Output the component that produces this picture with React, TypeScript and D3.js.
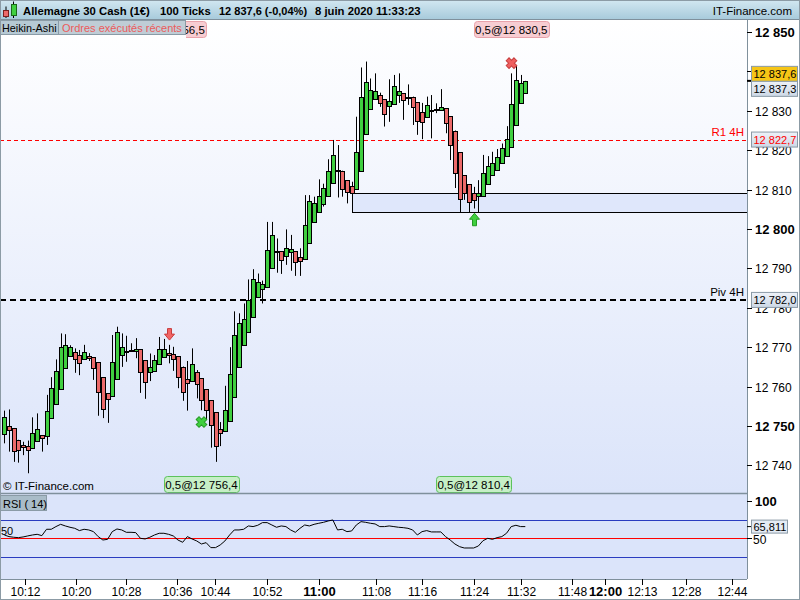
import React from 'react';
import * as d3 from 'd3';

// ---------- DATA ----------
const haOpen = [12747.9,12750.0,12749.5,12746.5,12745.2,12744.9,12744.4,12746.3,12747.7,12747.4,12752.0,12755.5,12759.3,12764.6,12767.7,12768.7,12767.9,12766.9,12767.8,12767.4,12766.2,12762.4,12758.3,12757.5,12761.9,12767.9,12768.9,12769.0,12769.1,12769.5,12766.7,12763.8,12763.9,12765.7,12767.6,12768.5,12768.2,12767.7,12765.1,12761.9,12761.4,12763.6,12762.1,12759.3,12756.5,12753.5,12749.2,12748.7,12751.2,12757.3,12765.1,12770.6,12773.8,12777.7,12782.7,12784.7,12785.2,12790.0,12794.2,12794.4,12793.1,12794.1,12794.4,12792.9,12792.3,12796.5,12801.9,12804.2,12806.3,12808.3,12811.6,12815.1,12814.8,12812.4,12811.0,12810.1,12814.7,12824.0,12830.5,12832.9,12833.9,12832.9,12831.1,12831.6,12833.9,12834.4,12833.6,12833.6,12832.2,12829.6,12828.4,12830.1,12830.3,12830.1,12830.6,12828.6,12825.0,12819.5,12813.6,12811.3,12809.1,12808.3,12808.5,12811.3,12813.6,12815.1,12816.7,12818.5,12820.7,12826.3,12832.1,12834.4];
const haHigh = [12753.9,12754.2,12749.5,12746.5,12746.0,12746.3,12752.2,12753.2,12747.7,12757.9,12762.4,12766.9,12773.5,12773.3,12770.5,12769.7,12769.3,12770.6,12768.5,12767.4,12766.2,12762.4,12758.3,12773.1,12775.2,12773.5,12772.9,12771.0,12772.3,12769.5,12766.7,12768.4,12768.0,12772.6,12772.1,12770.6,12770.1,12767.7,12765.1,12766.5,12769.7,12764.2,12762.1,12759.3,12756.5,12753.5,12751.0,12760.2,12770.0,12779.1,12778.6,12781.1,12787.2,12789.8,12788.7,12786.9,12801.8,12801.8,12797.6,12794.4,12799.9,12798.5,12794.4,12795.1,12808.6,12808.6,12808.2,12812.6,12811.5,12817.7,12822.6,12821.3,12814.8,12812.4,12812.0,12828.5,12841.0,12842.5,12838.2,12839.5,12834.6,12832.9,12838.0,12839.1,12839.5,12834.4,12836.7,12833.6,12832.2,12832.0,12833.6,12834.0,12831.9,12835.5,12830.6,12828.6,12825.0,12819.5,12813.6,12811.3,12810.7,12812.4,12818.8,12818.5,12819.6,12820.3,12821.7,12826.1,12839.5,12841.4,12839.1,12837.6];
const haLow = [12745.6,12743.5,12740.9,12740.7,12742.6,12738.0,12744.4,12746.3,12743.5,12745.2,12752.0,12755.5,12759.3,12764.6,12767.7,12763.5,12762.9,12766.9,12766.5,12761.7,12752.6,12752.0,12750.8,12757.5,12761.9,12765.0,12766.3,12768.8,12767.2,12758.4,12756.9,12761.4,12763.9,12765.7,12767.6,12765.9,12764.0,12759.6,12756.4,12753.9,12761.4,12757.0,12754.0,12751.5,12744.5,12740.9,12744.9,12748.7,12751.2,12757.3,12765.1,12770.6,12773.8,12777.7,12782.7,12781.1,12785.2,12790.0,12788.9,12788.6,12790.9,12789.4,12788.1,12788.1,12792.3,12796.5,12801.9,12804.2,12805.7,12808.3,12811.6,12808.0,12808.2,12806.5,12808.6,12810.1,12814.7,12824.0,12830.5,12832.9,12831.0,12826.0,12827.2,12831.6,12832.0,12827.7,12831.5,12826.4,12823.9,12822.8,12828.4,12823.0,12829.4,12830.1,12824.3,12817.5,12810.4,12804.2,12807.4,12804.2,12805.2,12804.2,12808.5,12811.3,12813.6,12815.1,12816.7,12818.5,12820.7,12826.3,12832.1,12834.4];
const haClose = [12752.2,12748.9,12743.6,12743.9,12744.6,12744.0,12748.2,12749.2,12746.9,12753.8,12759.6,12763.9,12770.0,12770.5,12770.0,12766.9,12765.9,12768.7,12767.2,12764.6,12758.6,12754.2,12756.8,12766.2,12773.8,12770.0,12769.1,12769.2,12769.5,12763.8,12761.2,12765.1,12766.7,12769.5,12769.5,12767.9,12766.9,12762.5,12758.7,12761.0,12765.7,12760.6,12756.5,12754.0,12750.2,12745.0,12748.2,12754.0,12763.1,12773.0,12776.1,12777.2,12782.0,12787.2,12786.5,12786.0,12794.7,12798.5,12794.3,12792.1,12795.1,12794.8,12791.5,12791.8,12800.9,12807.1,12806.5,12808.3,12810.3,12814.7,12818.8,12814.9,12810.1,12809.3,12809.1,12819.5,12833.6,12837.2,12835.2,12834.9,12831.9,12829.1,12832.4,12836.2,12834.9,12832.7,12833.5,12830.9,12827.3,12827.1,12831.4,12830.2,12830.4,12830.9,12826.8,12821.2,12814.1,12807.5,12809.1,12806.8,12807.3,12809.1,12814.1,12815.9,12816.7,12818.2,12820.5,12822.8,12831.7,12837.7,12837.0,12837.6];
const rsi14 = [54.5,52.3,51.4,50.9,51.8,53.2,54.5,55.4,53.6,62.2,62.2,65.8,68.9,66.7,64.9,63.5,60.4,62.2,61.3,59.0,52.3,47.7,48.6,59.0,62.6,61.3,58.1,58.1,57.7,50.0,49.1,51.4,54.5,56.8,56.8,55.4,53.2,47.7,44.6,52.3,49.1,46.4,42.3,44.1,37.4,37.4,41.0,46.4,54.5,61.3,61.3,62.2,66.7,65.8,67.6,71.2,71.2,68.0,64.9,66.7,65.8,61.3,58.1,63.5,68.0,66.7,68.9,70.3,71.6,73.4,74.8,61.3,62.2,59.0,59.9,68.0,72.5,71.6,70.3,69.4,65.8,65.8,66.7,65.8,64.9,64.4,63.5,61.3,54.5,59.0,60.4,58.6,58.6,58.6,52.3,47.7,42.3,38.7,36.9,36.9,36.9,39.6,46.8,50.0,48.6,50.9,52.3,56.8,65.8,67.6,65.8,65.8];

const priceTicks = [12740,12750,12760,12770,12780,12790,12800,12810,12820,12830,12840,12850];
const hiddenTickLabels = [12840];
const timeLabels = ['10:12','10:20','10:28','10:36','10:44','10:52','11:00','11:08','11:16','11:24','11:32','11:48','12:00','12:13','12:28','12:44'];
const timeTickIdx = [4.41,15.27,25.93,36.73,44.89,55.9,67.1,79.1,88.9,100.1,110.0,120.9,127.9,135.9,145.2,155.1];
const boldTimes = ['11:00','12:00'];

const r1Level = 12822.7;
const pivLevel = 12782.0;
const zoneTop = 12809.1;
const zoneBottom = 12804.2;
const zoneStartIdx = 74;
const lastPrice = 12837.6;
const haLastPrice = 12837.3;
const rsiLast = 65.811;
const rsiBands = [75, 25];

const tradeIdx = [35, 42, 100, 108];
const tradeKind = ['sellArrow', 'buyCross', 'buyArrow', 'sellCross'];
const tradeMarkPrice = [12771.8, 12751.0, 12804.0, 12842.1];
const tradeText = ['0,5@12 756,5', '0,5@12 756,4', '0,5@12 810,4', '0,5@12 830,5'];
const tradeSide = ['top', 'bottom', 'bottom', 'top'];

// ---------- HELPERS ----------
const FONT = 'Liberation Sans, Arial, sans-serif';
const fmtPrice = (v: number, dec = 0) => {
  const s = v.toFixed(dec);
  const [ip, dp] = s.split('.');
  const th = ip.replace(/\B(?=(\d{3})+(?!\d))/g, ' ');
  return dp ? `${th},${dp}` : th;
};

const W = 800, H = 600;
const plotR = 747, mainT = 20, mainB = 493, rsiT = 494, rsiB = 579;

const x = d3.scaleLinear().domain([0, 111]).range([4.3, 525.3]);
const y = d3.scaleLinear().domain([12740, 12850]).range([465.4, 32]);
const yr = d3.scaleLinear().domain([0, 100]).range([575.3, 501.3]);

const crossPath = (() => {
  const a = 5.5, b = 2;
  return `M${-b},${-a}L${b},${-a}L${b},${-b}L${a},${-b}L${a},${b}L${b},${b}L${b},${a}L${-b},${a}L${-b},${b}L${-a},${b}L${-a},${-b}L${-b},${-b}Z`;
})();

function Marker({ kind, cx, cy }: { kind: string; cx: number; cy: number }) {
  if (kind === 'sellArrow') {
    const d = `M${cx - 2},${cy - 11.5}L${cx + 2},${cy - 11.5}L${cx + 2},${cy - 6}L${cx + 5},${cy - 6}L${cx},${cy}L${cx - 5},${cy - 6}L${cx - 2},${cy - 6}Z`;
    return <path d={d} fill="#f26565" stroke="#c83c3c" strokeWidth={1} />;
  }
  if (kind === 'buyArrow') {
    const d = `M${cx - 2},${cy + 12.5}L${cx + 2},${cy + 12.5}L${cx + 2},${cy + 6}L${cx + 5},${cy + 6}L${cx},${cy}L${cx - 5},${cy + 6}L${cx - 2},${cy + 6}Z`;
    return <path d={d} fill="#3fcf3f" stroke="#239a23" strokeWidth={1} />;
  }
  const green = kind === 'buyCross';
  return (
    <path d={crossPath} transform={`translate(${cx},${cy}) rotate(45)`}
      fill={green ? '#3fcf3f' : '#f06060'} stroke={green ? '#239a23' : '#c84040'} strokeWidth={1} />
  );
}

function ValueBox({ yc, text, fill, color, top }: { yc: number; text: string; fill: string; color: string; top?: number }) {
  const h = 15;
  const y0 = top !== undefined ? top : yc - h / 2;
  return (
    <g>
      <rect x={751.5} y={y0} width={46} height={h} fill={fill} stroke="#8a9aa6" strokeWidth={1} />
      <text x={753.5} y={y0 + h / 2} dy="0.36em" fontSize={11} fill={color} fontFamily={FONT}>{text}</text>
    </g>
  );
}

export default function App() {
  const rsiLine = d3.line<number>().x((_, i) => x(i)).y((v) => yr(v))(rsi14) || '';
  const lastY = y(lastPrice);

  return (
    <svg width={W} height={H} style={{ position: 'absolute', left: 0, top: 0, background: '#fff' }}>
      <defs>
        <linearGradient id="hdr" x1="0" y1="0" x2="0" y2="1">
          <stop offset="0" stopColor="#d2e7f1" />
          <stop offset="1" stopColor="#a7cadb" />
        </linearGradient>
        <linearGradient id="mainbg" x1="0" y1="0" x2="0" y2="1">
          <stop offset="0" stopColor="#ffffff" />
          <stop offset="1" stopColor="#dbe4fa" />
        </linearGradient>
        <linearGradient id="boxbg" x1="0" y1="0" x2="0" y2="1">
          <stop offset="0" stopColor="#eef2f8" />
          <stop offset="1" stopColor="#cdd8e6" />
        </linearGradient>
        <clipPath id="mainclip"><rect x={0} y={mainT} width={plotR} height={mainB - mainT} /></clipPath>
        <clipPath id="rsiclip"><rect x={0} y={rsiT} width={plotR} height={rsiB - rsiT} /></clipPath>
        <clipPath id="tlclip"><rect x={186} y={mainT} width={plotR - 186} height={40} /></clipPath>
      </defs>

      {/* backgrounds */}
      <rect x={0} y={mainT} width={plotR} height={mainB - mainT} fill="url(#mainbg)" />
      <rect x={0} y={rsiT} width={plotR} height={rsiB - rsiT} fill="#dbe4fa" />

      {/* main panel */}
      <g clipPath="url(#mainclip)">
        <rect x={Math.round(x(zoneStartIdx)) + 0.5} y={Math.round(y(zoneTop)) + 0.5} width={plotR - Math.round(x(zoneStartIdx))}
          height={Math.round(y(zoneBottom)) - Math.round(y(zoneTop))} fill="#dfe7fb" stroke="#000" strokeWidth={1} />
        <line x1={0} x2={plotR} y1={Math.round(y(r1Level)) + 0.5} y2={Math.round(y(r1Level)) + 0.5} stroke="#ff0000" strokeWidth={1} strokeDasharray="4,3" />
        <text x={744} y={y(r1Level) - 4} textAnchor="end" fontSize={11.5} fill="#ff0000" fontFamily={FONT}>R1 4H</text>
        <line x1={0} x2={plotR} y1={y(pivLevel)} y2={y(pivLevel)} stroke="#000" strokeWidth={2} strokeDasharray="6,4" />
        <text x={744} y={y(pivLevel) - 4} textAnchor="end" fontSize={11.5} fill="#000" fontFamily={FONT}>Piv 4H</text>

        {haOpen.map((o, i) => {
          const c = haClose[i];
          const up = c >= o;
          const r = Math.round(x(i));
          const top = y(Math.max(o, c));
          const bot = y(Math.min(o, c));
          return (
            <g key={i}>
              <line x1={r + 0.5} x2={r + 0.5} y1={y(haHigh[i])} y2={y(haLow[i])} stroke="#000" strokeWidth={1} />
              <rect x={r - 1.5} y={Math.round(top) + 0.5} width={4} height={Math.max(Math.round(bot) - Math.round(top), 1)}
                fill={up ? '#40cf40' : '#ec6a6a'} stroke="#000" strokeWidth={1} />
            </g>
          );
        })}

        {tradeIdx.map((ix, k) => (
          <Marker key={k} kind={tradeKind[k]} cx={Math.round(x(ix)) + 0.5} cy={y(tradeMarkPrice[k])} />
        ))}

        {tradeIdx.map((ix, k) => {
          const cx = x(ix);
          const isTop = tradeSide[k] === 'top';
          const by = isTop ? 21.5 : 476.5;
          const green = !isTop;
          const clipped = isTop && cx - 37.5 < 186;
          return (
            <g key={'l' + k} clipPath={clipped ? 'url(#tlclip)' : undefined}>
              <rect x={Math.round(cx - 37.5) + 0.5} y={by} width={75} height={16} rx={3}
                fill={green ? '#c6efc6' : '#f7cdd2'} stroke={green ? '#5cc25c' : '#e8a2aa'} strokeWidth={1} />
              <text x={cx} y={by + 8} dy="0.36em" textAnchor="middle" fontSize={11.5} fill="#000" fontFamily={FONT}>{tradeText[k]}</text>
            </g>
          );
        })}
        <text x={3} y={490} fontSize={11.5} fill="#000" fontFamily={FONT}>© IT-Finance.com</text>
      </g>

      {/* overlay boxes top-left */}
      <rect x={0.5} y={20.5} width={58} height={14} fill="#b6c9d4" stroke="#8a9ba6" strokeWidth={1} />
      <text x={2} y={31.5} fontSize={10.8} fill="#000" fontFamily={FONT}>Heikin-Ashi</text>
      <rect x={58.5} y={20.5} width={127} height={14} fill="#bfcdd6" stroke="#8a9ba6" strokeWidth={1} />
      <text x={62} y={31.5} fontSize={11} fill="#ec5b5b" fontFamily={FONT}>Ordres exécutés récents</text>

      {/* panel separators */}
      <line x1={0} x2={plotR} y1={mainB + 0.5} y2={mainB + 0.5} stroke="#7f909c" strokeWidth={1.5} />
      <line x1={0} x2={plotR} y1={rsiB + 0.5} y2={rsiB + 0.5} stroke="#7f909c" strokeWidth={1} />

      {/* RSI panel */}
      <g clipPath="url(#rsiclip)">
        {rsiBands.map((b) => (
          <line key={b} x1={0} x2={plotR} y1={Math.round(yr(b)) + 0.5} y2={Math.round(yr(b)) + 0.5} stroke="#2a3cc0" strokeWidth={1} />
        ))}
        <line x1={0} x2={plotR} y1={Math.round(yr(50)) + 0.5} y2={Math.round(yr(50)) + 0.5} stroke="#ff0000" strokeWidth={1} />
        <path d={rsiLine} fill="none" stroke="#000" strokeWidth={1} />
        <text x={1} y={yr(50) - 3} fontSize={11} fill="#000" fontFamily={FONT}>50</text>
      </g>
      <rect x={0.5} y={495.5} width={46} height={15} fill="#a9bcc8" stroke="#8a9ba6" strokeWidth={1} />
      <text x={3} y={507.5} fontSize={11} fill="#000" fontFamily={FONT}>RSI ( 14)</text>

      {/* right axis */}
      <line x1={plotR + 0.5} x2={plotR + 0.5} y1={mainT} y2={rsiB} stroke="#7f909c" strokeWidth={1} />
      {priceTicks.map((t) => {
        const bold = t % 50 === 0;
        const ty = Math.round(y(t)) + 0.5;
        return (
          <g key={t}>
            <line x1={plotR} x2={plotR + 5} y1={ty} y2={ty} stroke="#000" strokeWidth={1} />
            {!hiddenTickLabels.includes(t) && (
              <text x={755} y={ty} dy="0.36em" fontSize={bold ? 13 : 12} fontWeight={bold ? 'bold' : 'normal'} fill="#000" fontFamily={FONT}>{fmtPrice(t)}</text>
            )}
          </g>
        );
      })}
      <line x1={plotR} x2={plotR + 4} y1={lastY} y2={lastY} stroke="#000" strokeWidth={2} />
      <ValueBox yc={lastY} top={lastY - 14.5} text={fmtPrice(lastPrice, 1)} fill="#f6c516" color="#000" />
      <ValueBox yc={lastY} top={lastY + 0.5} text={fmtPrice(haLastPrice, 1)} fill="url(#boxbg)" color="#000" />
      <ValueBox yc={y(r1Level)} text={fmtPrice(r1Level, 1)} fill="url(#boxbg)" color="#ff0000" />
      <ValueBox yc={y(pivLevel)} text={fmtPrice(pivLevel, 1)} fill="url(#boxbg)" color="#000" />

      {/* RSI axis */}
      <line x1={plotR} x2={plotR + 5} y1={Math.round(yr(100)) + 0.5} y2={Math.round(yr(100)) + 0.5} stroke="#000" />
      <text x={755} y={yr(100)} dy="0.36em" fontSize={13} fontWeight="bold" fill="#000" fontFamily={FONT}>100</text>
      <line x1={plotR} x2={plotR + 5} y1={Math.round(yr(50)) + 0.5} y2={Math.round(yr(50)) + 0.5} stroke="#000" />
      <text x={753} y={yr(50) + 1} dy="0.36em" fontSize={12} fill="#000" fontFamily={FONT}>50</text>
      <line x1={plotR} x2={plotR + 5} y1={yr(rsiLast)} y2={yr(rsiLast)} stroke="#000" />
      <rect x={751.5} y={yr(rsiLast) - 6.5} width={36} height={13} fill="#e4ebf4" stroke="#8a9aa6" />
      <text x={753.5} y={yr(rsiLast)} dy="0.36em" fontSize={11} fill="#000" fontFamily={FONT}>{rsiLast.toFixed(3).replace('.', ',')}</text>

      {/* time axis */}
      {timeLabels.map((lab, k) => {
        const tx = Math.round(x(timeTickIdx[k])) + 0.5;
        const bold = boldTimes.includes(lab);
        return (
          <g key={lab}>
            <line x1={tx} x2={tx} y1={rsiB} y2={rsiB + 6} stroke="#000" strokeWidth={1} />
            <text x={tx} y={596} textAnchor="middle" fontSize={bold ? 13 : 12} fontWeight={bold ? 'bold' : 'normal'} fill="#000" fontFamily={FONT}>{lab}</text>
          </g>
        );
      })}

      {/* header */}
      <rect x={0} y={0} width={W} height={19.5} fill="url(#hdr)" />
      <line x1={0} x2={W} y1={19.5} y2={19.5} stroke="#7f909c" />
      <line x1={6} x2={6} y1={6.5} y2={18} stroke="#000" />
      <rect x={3.5} y={10.5} width={5} height={6} fill="#ec6a6a" stroke="#7a2020" />
      <line x1={13.5} x2={13.5} y1={1.5} y2={18} stroke="#000" />
      <rect x={11.5} y={4.5} width={5} height={11} fill="#40cf40" stroke="#1a6a1a" />
      <text x={23} y={14.5} fontSize={11.3} fontWeight="bold" fill="#000" fontFamily={FONT}>Allemagne 30 Cash (1€)</text>
      <text x={160} y={14.5} fontSize={11.3} fontWeight="bold" fill="#000" fontFamily={FONT}>100 Ticks</text>
      <text x={219} y={14.5} fontSize={11} fontWeight="bold" fill="#000" fontFamily={FONT}>12 837,6 (-0,04%)</text>
      <text x={315} y={14.5} fontSize={11.3} fontWeight="bold" fill="#000" fontFamily={FONT}>8 juin 2020 11:33:23</text>
      <text x={792} y={14.5} textAnchor="end" fontSize={11.5} fill="#000" fontFamily={FONT}>IT-Finance.com</text>

      <rect x={0.5} y={0.5} width={W - 1} height={H - 1} fill="none" stroke="#8c9ba5" />
    </svg>
  );
}
